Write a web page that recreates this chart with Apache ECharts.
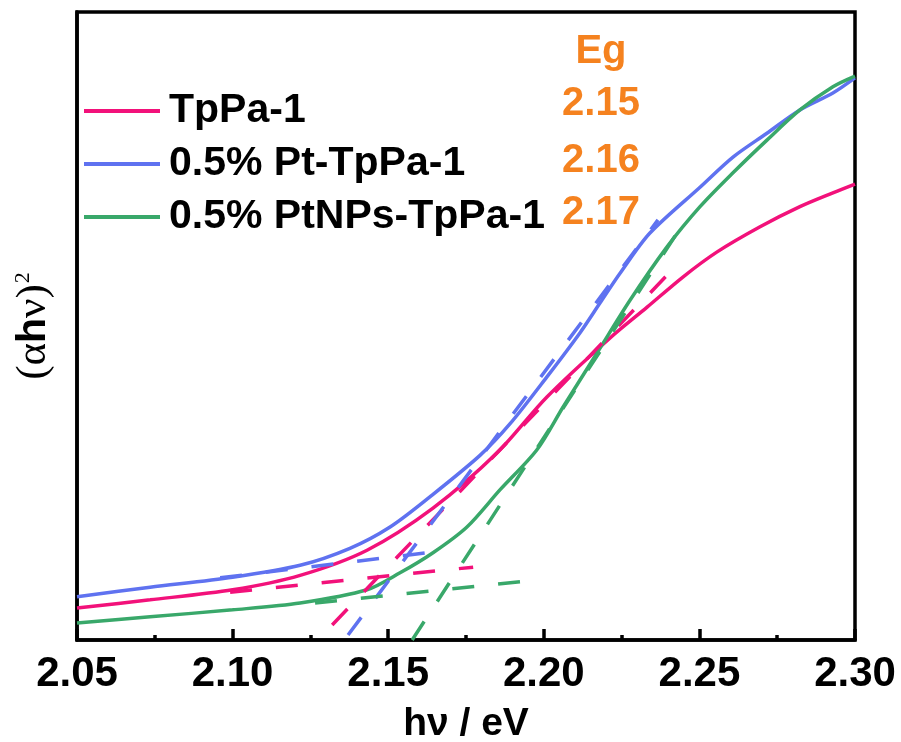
<!DOCTYPE html>
<html>
<head>
<meta charset="utf-8">
<script src="https://cdn.jsdelivr.net/npm/echarts@6/dist/echarts.min.js"></script>
<style>
html,body{margin:0;padding:0;background:#fff;}
#chart{width:901px;height:742px;}
</style>
</head>
<body>
<div id="chart"></div>
<script>
// ---- data ----
const seriesNames = ['TpPa-1', '0.5% Pt-TpPa-1', '0.5% PtNPs-TpPa-1'];
const egTitle = 'Eg';
const egValues = ['2.15', '2.16', '2.17'];
const xTicks = [2.05, 2.10, 2.15, 2.20, 2.25, 2.30];

const tppa = [
  [2.050, 5.1], [2.0735, 6.4], [2.100, 8.0], [2.1217, 10.3], [2.1432, 14.3],
  [2.1644, 21.0], [2.185, 29.8], [2.201, 38.7], [2.2213, 48.1], [2.2332, 53.0],
  [2.2447, 57.8], [2.2557, 61.8], [2.2695, 65.8], [2.2823, 69.0], [2.2929, 71.2], [2.300, 72.6]
];
const ptTppa = [
  [2.050, 6.9], [2.0735, 8.4], [2.100, 10.0], [2.1217, 11.9], [2.1377, 14.6],
  [2.1506, 18.0], [2.1634, 22.8], [2.1795, 29.4], [2.1891, 34.4], [2.201, 41.9],
  [2.2116, 48.9], [2.2181, 53.7], [2.2245, 58.4], [2.2341, 64.8], [2.2502, 72.1],
  [2.2608, 76.9], [2.2717, 80.7], [2.2823, 84.4], [2.2929, 87.1], [2.300, 89.5]
];
const ptnpsTppa = [
  [2.050, 2.7], [2.0735, 3.7], [2.100, 4.8], [2.1217, 5.9], [2.1432, 8.0],
  [2.1538, 10.7], [2.1644, 13.9], [2.1753, 18.0], [2.1859, 23.9], [2.1978, 30.3],
  [2.2062, 37.1], [2.2171, 45.7], [2.2277, 54.1], [2.2396, 62.6], [2.2502, 69.0],
  [2.2608, 74.4], [2.2717, 79.6], [2.2823, 84.4], [2.2929, 88.1], [2.300, 89.8]
];
// tangent and baseline fits (dashed)
const tppaTangent = [[2.132, 2.4], [2.2406, 58.6]];
const tppaBase = [[2.0992, 7.6], [2.1773, 11.6]];
const ptTangent = [[2.1371, 0.8], [2.2367, 66.9]];
const ptBase = [[2.096, 9.9], [2.1625, 13.9]];
const ptnpsTangent = [[2.1577, 0.0], [2.2428, 64.8]];
const ptnpsBase = [[2.1265, 5.9], [2.1949, 9.4]];

const colors = ['#F2117A', '#5F72F0', '#39A86A'];
const orange = '#F5821F';
const sans = "'Liberation Sans', Arial, sans-serif";
const serif = "'Liberation Serif', 'Times New Roman', serif";

const chart = echarts.init(document.getElementById('chart'));

function solid(name, data, color) {
  return {
    name: name, type: 'line', data: data, smooth: 0.3, symbol: 'none',
    lineStyle: { color: color, width: 3.5 }, itemStyle: { color: color }, z: 3
  };
}
function dashed(name, data, color) {
  return {
    name: name, type: 'line', data: data, symbol: 'none', silent: true,
    lineStyle: { color: color, width: 3.5, type: [22, 24] }, z: 4
  };
}

const option = {
  backgroundColor: '#fff',
  animation: false,
  grid: {
    left: 77, right: 46, top: 12, bottom: 102,
    outerBoundsMode: 'none', containLabel: false,
    show: true, borderColor: '#000', borderWidth: 3.5, backgroundColor: 'transparent'
  },
  legend: {
    data: seriesNames,
    orient: 'vertical',
    left: 84, top: 85, padding: 0,
    itemWidth: 76, itemHeight: 4, itemGap: 1,
    icon: 'rect',
    textStyle: {
      fontFamily: sans, fontWeight: 'bold', fontSize: 41, color: '#000',
      lineHeight: 52, padding: [0, 0, 0, 4]
    }
  },
  xAxis: {
    type: 'value', min: 2.05, max: 2.30, interval: 0.05,
    name: 'hν / eV', nameLocation: 'middle', nameGap: 65,
    nameTextStyle: { fontFamily: sans, fontWeight: 'bold', fontSize: 39, color: '#000' },
    axisLine: { show: true, lineStyle: { color: '#000', width: 3.5 } },
    axisTick: { show: true, inside: true, length: 11, lineStyle: { color: '#000', width: 3.5 } },
    minorTick: { show: true, splitNumber: 2, length: 5, lineStyle: { color: '#000', width: 3.5 } },
    splitLine: { show: false },
    axisLabel: {
      margin: 13, fontFamily: sans, fontWeight: 'bold', fontSize: 42, color: '#000',
      formatter: function (v) { return v.toFixed(2); },
      customValues: xTicks
    }
  },
  yAxis: {
    type: 'value', min: 0, max: 100,
    name: '{a|(α}{h|h}{a|ν)}{s|2}', nameLocation: 'middle', nameGap: 22, nameRotate: 90,
    nameTextStyle: {
      rich: {
        a: { fontFamily: serif, fontSize: 43, color: '#000' },
        h: { fontFamily: sans, fontWeight: 'bold', fontSize: 41, color: '#000' },
        s: { fontFamily: serif, fontSize: 22, color: '#000', verticalAlign: 'top', padding: [0, 0, 18, 1] }
      }
    },
    axisLine: { show: true, lineStyle: { color: '#000', width: 3.5 } },
    axisTick: { show: false },
    axisLabel: { show: false },
    splitLine: { show: false }
  },
  graphic: [
    { type: 'text', x: 601, y: 52,
      style: { text: egTitle, fill: orange, font: 'bold 40px ' + sans, align: 'center', verticalAlign: 'middle' } }
  ].concat(egValues.map(function (v, i) {
    return { type: 'text', x: 601, y: [104, 161, 213][i],
      style: { text: v, fill: orange, font: 'bold 40px ' + sans, align: 'center', verticalAlign: 'middle' } };
  })),
  series: [
    solid(seriesNames[0], tppa, colors[0]),
    solid(seriesNames[1], ptTppa, colors[1]),
    solid(seriesNames[2], ptnpsTppa, colors[2]),
    dashed('fit1', tppaTangent, colors[0]),
    dashed('base1', tppaBase, colors[0]),
    dashed('fit2', ptTangent, colors[1]),
    dashed('base2', ptBase, colors[1]),
    dashed('fit3', ptnpsTangent, colors[2]),
    dashed('base3', ptnpsBase, colors[2])
  ]
};
chart.setOption(option);
</script>
</body>
</html>
